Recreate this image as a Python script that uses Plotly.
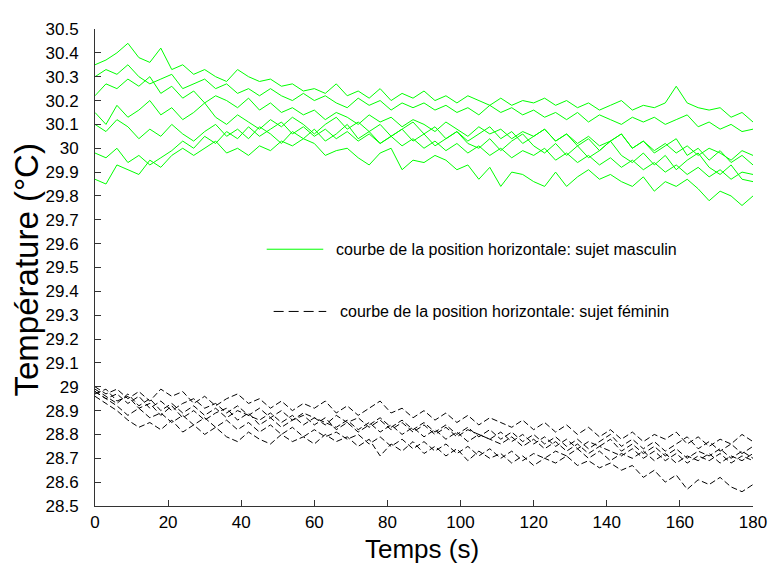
import plotly.graph_objects as go

# time axis (s), one sample every 3 s
temps = list(range(0, 181, 3))

# Male subjects, horizontal position (green, solid)
masc_1 = [30.35, 30.37, 30.40, 30.44, 30.38, 30.36, 30.42, 30.33, 30.35, 30.31,
          30.33, 30.30, 30.28, 30.33, 30.30, 30.28, 30.29, 30.26, 30.27, 30.24,
          30.25, 30.23, 30.27, 30.22, 30.24, 30.21, 30.25, 30.20, 30.23, 30.21,
          30.24, 30.20, 30.22, 30.19, 30.22, 30.20, 30.18, 30.21, 30.18, 30.20,
          30.19, 30.21, 30.18, 30.20, 30.17, 30.19, 30.16, 30.18, 30.20, 30.16,
          30.18, 30.17, 30.19, 30.26, 30.19, 30.17, 30.16, 30.17, 30.13, 30.15,
          30.11]
masc_2 = [30.30, 30.33, 30.31, 30.35, 30.30, 30.27, 30.29, 30.31, 30.25, 30.27,
          30.29, 30.25, 30.27, 30.23, 30.25, 30.22, 30.25, 30.22, 30.20, 30.23,
          30.20, 30.22, 30.19, 30.17, 30.21, 30.18, 30.20, 30.16, 30.19, 30.17,
          30.19, 30.16, 30.18, 30.15, 30.17, 30.14, 30.18, 30.15, 30.17, 30.14,
          30.16, 30.13, 30.15, 30.12, 30.15, 30.11, 30.14, 30.12, 30.10, 30.13,
          30.11, 30.13, 30.10, 30.12, 30.14, 30.09, 30.11, 30.08, 30.10, 30.07,
          30.08]
masc_3 = [30.22, 30.27, 30.25, 30.29, 30.26, 30.30, 30.23, 30.26, 30.21, 30.24,
          30.19, 30.22, 30.20, 30.17, 30.21, 30.16, 30.19, 30.15, 30.17, 30.14,
          30.16, 30.12, 30.15, 30.13, 30.10, 30.14, 30.11, 30.13, 30.09, 30.12,
          30.10, 30.07, 30.11, 30.08, 30.05, 30.09, 30.06, 30.08, 30.04, 30.07,
          30.05, 30.08, 30.03, 30.06, 30.02, 30.05, 30.01, 30.03, 30.06, 30.00,
          30.03, 29.99, 30.02, 29.98, 30.01, 29.97, 30.00, 29.98, 29.95, 29.99,
          29.97]
masc_4 = [30.15, 30.10, 30.18, 30.13, 30.16, 30.20, 30.14, 30.17, 30.12, 30.15,
          30.19, 30.13, 30.10, 30.14, 30.11, 30.08, 30.12, 30.09, 30.13, 30.10,
          30.06, 30.10, 30.13, 30.08, 30.11, 30.07, 30.10, 30.05, 30.08, 30.11,
          30.06, 30.09, 30.04, 30.07, 30.03, 30.06, 30.09, 30.04, 30.07, 30.02,
          30.05, 30.08, 30.03, 30.06, 30.01, 30.04, 29.99, 30.03, 30.06, 30.00,
          30.03, 29.98, 30.01, 30.04, 29.97, 30.00, 29.95, 29.99, 29.94, 29.97,
          29.93]
masc_5 = [30.10, 30.07, 30.12, 30.09, 30.04, 30.08, 30.05, 30.10, 30.06, 30.03,
          30.07, 30.10, 30.05, 30.08, 30.04, 30.09, 30.06, 30.02, 30.07, 30.04,
          30.08, 30.03, 30.06, 30.10, 30.04, 30.07, 30.02, 30.05, 30.08, 30.03,
          30.06, 30.01, 30.04, 30.07, 30.02, 30.00, 30.04, 29.99, 30.03, 30.06,
          30.01, 29.98, 30.02, 29.97, 30.01, 29.96, 29.99, 30.03, 29.97, 29.94,
          29.98, 29.93, 29.97, 29.91, 29.95, 29.98, 29.92, 29.89, 29.93, 29.87,
          29.86]
masc_6 = [29.98, 29.96, 30.00, 29.94, 29.97, 29.93, 29.96, 29.99, 30.03, 30.00,
          30.05, 30.02, 30.07, 30.04, 30.09, 30.05, 30.08, 30.11, 30.06, 30.09,
          30.05, 30.08, 30.04, 30.07, 30.03, 30.06, 30.02, 30.05, 30.01, 30.04,
          30.00, 30.03, 29.99, 30.02, 29.98, 30.01, 29.97, 30.00, 29.96, 29.99,
          29.97, 30.00, 29.95, 29.98, 29.94, 29.97, 29.93, 29.96, 29.92, 29.95,
          29.91, 29.94, 29.90, 29.93, 29.89, 29.92, 29.88, 29.91, 29.87, 29.90,
          29.89]
masc_7 = [29.87, 29.85, 29.93, 29.91, 29.89, 29.95, 29.92, 29.97, 30.00, 29.97,
          30.00, 30.03, 29.98, 30.00, 29.97, 30.01, 29.99, 30.03, 30.01, 30.04,
          30.02, 29.97, 29.99, 30.00, 29.96, 29.93, 29.98, 30.00, 29.91, 29.95,
          29.94, 29.97, 29.95, 29.91, 29.93, 29.87, 29.92, 29.84, 29.90, 29.89,
          29.86, 29.84, 29.90, 29.84, 29.88, 29.91, 29.87, 29.89, 29.86, 29.84,
          29.88, 29.82, 29.86, 29.84, 29.87, 29.83, 29.78, 29.82, 29.80, 29.76,
          29.80]

# Female subjects, horizontal position (black, dashed)
fem_1 = [29.00, 28.97, 28.99, 28.95, 28.98, 28.94, 28.99, 28.96, 28.98, 28.93,
         28.96, 28.92, 28.95, 28.97, 28.93, 28.95, 28.91, 28.94, 28.90, 28.93,
         28.91, 28.94, 28.89, 28.92, 28.88, 28.91, 28.94, 28.89, 28.91, 28.87,
         28.90, 28.86, 28.89, 28.85, 28.88, 28.84, 28.87, 28.85, 28.83, 28.86,
         28.82, 28.85, 28.81, 28.84, 28.80, 28.83, 28.79, 28.82, 28.78, 28.81,
         28.77, 28.80, 28.78, 28.81, 28.76, 28.79, 28.75, 28.78, 28.76, 28.80,
         28.77]
fem_2 = [28.98, 28.95, 28.97, 28.93, 28.96, 28.91, 28.94, 28.90, 28.93, 28.95,
         28.91, 28.93, 28.89, 28.92, 28.88, 28.91, 28.87, 28.90, 28.86, 28.89,
         28.87, 28.84, 28.88, 28.85, 28.87, 28.83, 28.86, 28.82, 28.85, 28.81,
         28.84, 28.80, 28.83, 28.79, 28.82, 28.80, 28.78, 28.81, 28.77, 28.80,
         28.76, 28.79, 28.75, 28.78, 28.74, 28.77, 28.75, 28.78, 28.73, 28.76,
         28.72, 28.75, 28.71, 28.74, 28.70, 28.73, 28.71, 28.74, 28.70, 28.73,
         28.70]
fem_3 = [28.99, 28.96, 28.93, 28.97, 28.92, 28.95, 28.90, 28.93, 28.89, 28.92,
         28.88, 28.91, 28.87, 28.90, 28.88, 28.86, 28.89, 28.85, 28.88, 28.84,
         28.87, 28.85, 28.83, 28.86, 28.82, 28.85, 28.81, 28.84, 28.80, 28.83,
         28.79, 28.82, 28.78, 28.81, 28.77, 28.80, 28.78, 28.76, 28.79, 28.75,
         28.78, 28.74, 28.77, 28.73, 28.76, 28.72, 28.75, 28.73, 28.71, 28.74,
         28.70, 28.73, 28.69, 28.72, 28.68, 28.71, 28.69, 28.72, 28.68, 28.71,
         28.69]
fem_4 = [28.97, 28.99, 28.94, 28.96, 28.91, 28.93, 28.88, 28.92, 28.87, 28.90,
         28.86, 28.89, 28.91, 28.86, 28.89, 28.84, 28.87, 28.83, 28.86, 28.88,
         28.84, 28.87, 28.82, 28.85, 28.81, 28.84, 28.87, 28.83, 28.86, 28.82,
         28.85, 28.81, 28.84, 28.80, 28.83, 28.79, 28.82, 28.78, 28.81, 28.77,
         28.80, 28.76, 28.79, 28.75, 28.78, 28.74, 28.77, 28.80, 28.75, 28.78,
         28.74, 28.77, 28.73, 28.76, 28.79, 28.74, 28.77, 28.73, 28.76, 28.72,
         28.75]
fem_5 = [28.98, 28.95, 28.92, 28.88, 28.91, 28.87, 28.89, 28.85, 28.88, 28.84,
         28.87, 28.83, 28.86, 28.82, 28.85, 28.81, 28.84, 28.80, 28.83, 28.79,
         28.82, 28.79, 28.81, 28.78, 28.80, 28.76, 28.79, 28.75, 28.78, 28.74,
         28.77, 28.73, 28.76, 28.72, 28.75, 28.71, 28.74, 28.70, 28.73, 28.69,
         28.72, 28.70, 28.73, 28.71, 28.74, 28.70, 28.73, 28.69, 28.72, 28.70,
         28.73, 28.69, 28.72, 28.68, 28.71, 28.69, 28.72, 28.68, 28.71, 28.69,
         28.72]
fem_6 = [28.96, 28.93, 28.90, 28.86, 28.83, 28.85, 28.82, 28.86, 28.81, 28.84,
         28.80, 28.83, 28.79, 28.77, 28.81, 28.78, 28.76, 28.80, 28.77, 28.79,
         28.76, 28.80, 28.77, 28.79, 28.75, 28.78, 28.71, 28.76, 28.73, 28.77,
         28.72, 28.75, 28.71, 28.74, 28.69, 28.73, 28.70, 28.72, 28.68, 28.71,
         28.67, 28.70, 28.68, 28.71, 28.67, 28.69, 28.66, 28.68, 28.65, 28.67,
         28.62, 28.65, 28.60, 28.63, 28.57, 28.61, 28.59, 28.62, 28.58, 28.56,
         28.59]

masculin_series = [masc_1, masc_2, masc_3, masc_4, masc_5, masc_6, masc_7]
feminin_series = [fem_1, fem_2, fem_3, fem_4, fem_5, fem_6]

x_ticks = [0, 20, 40, 60, 80, 100, 120, 140, 160, 180]
y_ticks = [28.5, 28.6, 28.7, 28.8, 28.9, 29.0, 29.1, 29.2, 29.3, 29.4, 29.5,
           29.6, 29.7, 29.8, 29.9, 30.0, 30.1, 30.2, 30.3, 30.4, 30.5]
y_tick_labels = ["28.5", "28.6", "28.7", "28.8", "28.9", "29", "29.1", "29.2",
                 "29.3", "29.4", "29.5", "29.6", "29.7", "29.8", "29.9", "30",
                 "30.1", "30.2", "30.3", "30.4", "30.5"]

label_masc = "courbe de la position horizontale: sujet masculin"
label_fem = "courbe de la position horizontale: sujet féminin"
x_title = "Temps (s)"
y_title = "Température (°C)"

FONT = "Liberation Sans, Arial, sans-serif"
GREEN = "#00ff00"

fig = go.Figure()
for ys in masculin_series:
    fig.add_trace(go.Scatter(x=temps, y=ys, mode="lines",
                             line=dict(color=GREEN, width=1),
                             showlegend=False, hoverinfo="skip"))
for ys in feminin_series:
    fig.add_trace(go.Scatter(x=temps, y=ys, mode="lines",
                             line=dict(color="black", width=1, dash="6px,3px"),
                             showlegend=False, hoverinfo="skip"))

# The page body has an 8 px margin; positions below are page pixels.
OFF = 8
PAGE_W, PAGE_H = 779, 565
L, R, T, B = 95, 758, 23, 506   # plot area on the page
W, H = R - L, B - T

def px(X):
    return (X - L) / W

def py(Y):
    return (B - Y) / H

shapes = [
    dict(type="line", xref="paper", yref="paper", x0=px(268), x1=px(325),
         y0=py(246), y1=py(246), line=dict(color=GREEN, width=1)),
    dict(type="line", xref="paper", yref="paper", x0=px(275), x1=px(328),
         y0=py(309), y1=py(309), line=dict(color="black", width=1, dash="10px,5px")),
]
annotations = [
    dict(text=label_masc, xref="paper", yref="paper", x=px(336), y=py(246),
         xanchor="left", yanchor="middle", showarrow=False,
         font=dict(family=FONT, size=16, color="black")),
    dict(text=label_fem, xref="paper", yref="paper", x=px(340), y=py(309),
         xanchor="left", yanchor="middle", showarrow=False,
         font=dict(family=FONT, size=16, color="black")),
    dict(text=x_title, xref="paper", yref="paper", x=px(424), y=py(550),
         xanchor="center", yanchor="middle", showarrow=False,
         font=dict(family=FONT, size=26, color="black")),
    dict(text=y_title, xref="paper", yref="paper", x=px(26), y=py(267),
         xanchor="center", yanchor="middle", showarrow=False, textangle=-90,
         font=dict(family=FONT, size=33, color="black")),
]

fig.update_layout(
    width=PAGE_W - OFF, height=PAGE_H - OFF,
    margin=dict(l=L - OFF, r=PAGE_W - R, t=T - OFF, b=PAGE_H - B, pad=0),
    paper_bgcolor="white", plot_bgcolor="white",
    font=dict(family=FONT, size=17, color="black"),
    showlegend=False,
    shapes=shapes, annotations=annotations,
    xaxis=dict(range=[0, 180], tickvals=x_ticks, ticks="inside", ticklen=6,
               tickcolor="#333333", showline=True, linecolor="#333333", linewidth=1,
               showgrid=False, zeroline=False, ticklabelstandoff=1,
               tickfont=dict(family=FONT, size=17, color="black")),
    yaxis=dict(range=[28.5, 30.5], tickvals=y_ticks, ticktext=y_tick_labels,
               ticks="inside", ticklen=6, tickcolor="#333333",
               showline=True, linecolor="#333333", linewidth=1,
               showgrid=False, zeroline=False, ticklabelstandoff=12,
               tickfont=dict(family=FONT, size=17, color="black")),
)

fig.write_html("out.html")
